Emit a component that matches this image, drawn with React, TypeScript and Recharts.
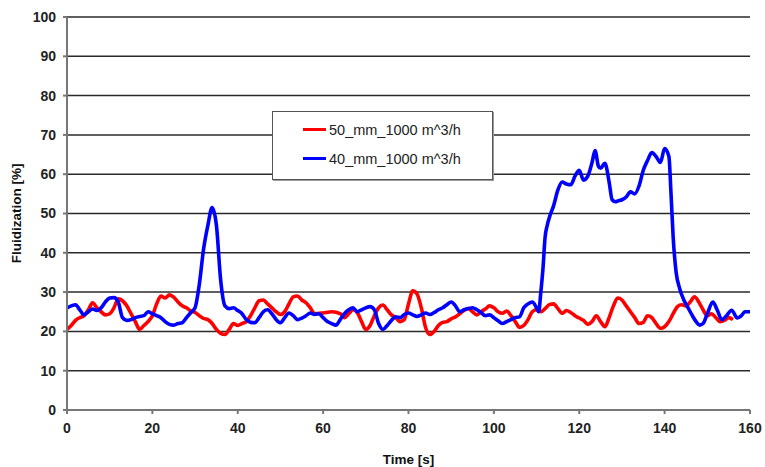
import React from "react";
import { LineChart, Line, XAxis, YAxis, CartesianGrid } from "recharts";

// [time s, fluidization %]
const red50: number[][] = [
  [0, 20.5], [1, 21.5], [2, 22.8], [3, 23.5], [4, 24], [5, 25.5], [6, 27.3], [7, 26], [8, 25], [9, 24.2],
  [10, 24.5], [11, 26], [12, 28.3], [13, 27.8], [14, 26.5], [15, 24.5], [16, 22.5], [17, 20.5], [18, 21.5], [19, 22.5],
  [20, 24], [21, 27], [22, 29], [23, 28.5], [24, 29.3], [25, 28.7], [26, 27.5], [27, 26.5], [28, 26], [29, 25.2],
  [30, 24.8], [31, 24], [32, 23.3], [33, 23], [34, 22], [35, 20.5], [36, 19.5], [37, 19.2], [38, 20.5], [39, 22],
  [40, 21.5], [41, 22], [42, 22.5], [43, 24], [44, 26], [45, 27.8], [46, 28], [47, 27], [48, 26], [49, 25],
  [50, 24.3], [51, 25], [52, 27], [53, 28.8], [54, 29], [55, 28], [56, 27.3], [57, 26], [58, 24.5], [60, 24.7],
  [62, 25], [64, 24.5], [65, 23.5], [66, 24.5], [67, 25.5], [68, 24.8], [69, 22.5], [70, 20.5], [71, 21.5], [72, 24],
  [73, 26], [74, 26.7], [75, 25.5], [76, 24.2], [77, 23.5], [78, 22.5], [79, 23], [80, 27], [81, 30.3], [82, 29.5],
  [83, 26], [84, 21], [85, 19.2], [86, 20], [87, 21.5], [88, 22.3], [89, 22.5], [90, 23.2], [91, 23.7], [92, 24.5],
  [93, 25.3], [94, 25.8], [95, 25], [96, 24.2], [97, 25], [98, 25.7], [99, 26.5], [100, 26], [101, 25], [102, 24.6],
  [103, 25.2], [104, 24], [105, 22.5], [106, 21], [107, 21.5], [108, 23], [109, 25], [110, 25.5], [111, 25], [112, 25.8],
  [113, 26.8], [114, 27], [115, 25.8], [116, 24.6], [117, 25.3], [118, 24.8], [119, 24], [120, 23.4], [121, 22.8], [122, 21.8],
  [123, 22.5], [124, 24], [125, 22.5], [126, 21.2], [127, 23.5], [128, 26.5], [129, 28.5], [130, 28], [131, 26.5], [132, 25],
  [133, 23.5], [134, 22], [135, 22.3], [136, 24], [137, 23.5], [138, 22], [139, 20.8], [140, 21.2], [141, 22.5], [142, 24.5],
  [143, 26.3], [144, 26.8], [145, 26.5], [146, 27.5], [147, 28.8], [148, 27.5], [149, 25.5], [150, 24], [151, 24.5], [152, 23.5],
  [153, 22.5], [154, 22.8], [155, 23.5], [156, 23],
];

const blue40: number[][] = [
  [0, 26], [1, 26.5], [2, 26.8], [3, 25.5], [4, 24.2], [5, 25], [6, 25.7], [7, 25.3], [8, 26], [9, 27.5],
  [10, 28.5], [11, 28.6], [12, 27.5], [13, 23.5], [14, 22.8], [15, 23], [16, 23.5], [17, 23.8], [18, 24], [19, 25],
  [20, 24.5], [21, 24], [22, 23.5], [23, 22.5], [24, 21.8], [25, 21.6], [26, 22], [27, 22.2], [28, 23.5], [29, 24.8],
  [30, 26], [31, 32], [32, 41], [33, 47], [34, 51.5], [35, 47], [36, 33], [37, 26.5], [38, 25.8], [39, 26],
  [40, 25.3], [41, 24.5], [42, 23], [43, 22.3], [44, 22.2], [45, 23.5], [46, 25], [47, 25.5], [48, 24.5], [49, 23],
  [50, 22.2], [51, 23.5], [52, 24.7], [53, 24], [54, 23], [55, 23.4], [56, 24], [57, 24.7], [58, 24.3], [59, 24.5],
  [60, 23.5], [61, 22.5], [62, 22], [63, 21.6], [64, 23], [65, 24.5], [66, 25.5], [67, 26], [68, 25], [69, 25.5],
  [70, 26], [71, 26.3], [72, 25.5], [73, 22], [74, 20.5], [75, 21.5], [76, 22.8], [77, 23.7], [78, 23.5], [79, 24.3],
  [80, 24.7], [81, 24.2], [82, 23.8], [83, 24.2], [84, 24.7], [85, 24.3], [86, 24.8], [87, 25.5], [88, 26], [89, 26.8],
  [90, 27.5], [91, 26.5], [92, 25], [93, 25.5], [94, 25.8], [95, 26], [96, 25.5], [97, 24.8], [98, 24], [99, 24.2],
  [100, 23.5], [101, 22.7], [102, 22], [103, 22.5], [104, 23], [105, 23.5], [106, 23.7], [107, 26], [108, 27], [109, 27.5],
  [110, 26], [110.5, 25], [111, 30], [111.5, 36], [112, 44], [112.5, 47], [113, 49], [114, 52], [115, 56], [116, 58],
  [117, 57.5], [118, 57.3], [119, 59.5], [120, 61], [121, 58.5], [122, 59.5], [123, 63], [123.7, 66], [124.5, 62], [125, 61.5],
  [126, 62.8], [127, 58], [127.7, 53.5], [128.5, 53], [129, 53.2], [130, 53.5], [131, 54.2], [132, 55.5], [133, 55], [134, 57],
  [135, 61], [136, 63.5], [137, 65.5], [138, 64.5], [139, 63], [140, 66.5], [141, 64.5], [141.5, 55], [142, 44], [142.7, 35],
  [143.5, 31], [144.5, 28], [145.5, 26], [146.5, 24], [147.5, 22.3], [148.2, 21.6], [149, 22], [150, 24.5], [151.3, 27.5], [152.3, 25.5],
  [153.4, 23], [154.5, 24], [155.7, 25.4], [157, 23.4], [158, 24], [158.8, 25], [160, 25],
];

const xTicks = [0, 20, 40, 60, 80, 100, 120, 140, 160];
const yTicks = [0, 10, 20, 30, 40, 50, 60, 70, 80, 90, 100];

const redData = red50.map(([t, v]) => ({ t, v }));
const blueData = blue40.map(([t, v]) => ({ t, v }));

const labelFont = "Liberation Sans, Arial, sans-serif";
const tickStyle = { fontFamily: labelFont, fontSize: 14, fontWeight: "bold", fill: "#222" };

function LegendBox() {
  const row = (color: string, text: string) => (
    <div style={{ display: "flex", alignItems: "center", height: 29 }}>
      <div style={{ width: 23, height: 3, background: color, marginLeft: 30, marginRight: 3 }} />
      <span style={{ fontFamily: labelFont, fontSize: 14.5, color: "#222" }}>{text}</span>
    </div>
  );
  return (
    <div
      style={{
        position: "absolute",
        left: 272,
        top: 111,
        width: 221,
        height: 69,
        background: "#fff",
        border: "1px solid #555",
        boxShadow: "1px 1px 0 #999",
        paddingTop: 3,
        boxSizing: "border-box",
      }}
    >
      {row("#ff0000", "50_mm_1000 m^3/h")}
      {row("#0000ff", "40_mm_1000 m^3/h")}
    </div>
  );
}

export default function App() {
  return (
    <div style={{ position: "absolute", left: 0, top: 0, width: 765, height: 467, background: "#fff" }}>
      <LineChart width={765} height={467} margin={{ top: 17, right: 15, bottom: 0, left: 0 }}>
        <CartesianGrid vertical={false} stroke="#2a2a2a" strokeWidth={1.5} />
        <XAxis
          type="number"
          dataKey="t"
          domain={[0, 160]}
          ticks={xTicks}
          height={57}
          stroke="#777"
          strokeWidth={2}
          tickSize={4}
          tickMargin={9}
          tick={tickStyle}
          label={{
            value: "Time [s]",
            position: "insideBottom",
            offset: 3,
            style: { fontFamily: labelFont, fontSize: 13.5, fontWeight: "bold", fill: "#111" },
          }}
          allowDataOverflow
        />
        <YAxis
          type="number"
          domain={[0, 100]}
          ticks={yTicks}
          width={67}
          stroke="#777"
          strokeWidth={2}
          tickSize={4}
          tickMargin={7}
          tick={tickStyle}
          label={{
            value: "Fluidization [%]",
            angle: -90,
            position: "insideLeft",
            offset: 16,
            style: { textAnchor: "middle", fontFamily: labelFont, fontSize: 13.5, fontWeight: "bold", fill: "#111" },
          }}
        />
        <Line
          data={redData}
          dataKey="v"
          name="50_mm_1000 m^3/h"
          type="monotone"
          stroke="#ff0000"
          strokeWidth={3.6}
          dot={false}
          isAnimationActive={false}
        />
        <Line
          data={blueData}
          dataKey="v"
          name="40_mm_1000 m^3/h"
          type="monotone"
          stroke="#0000ff"
          strokeWidth={3.6}
          dot={false}
          isAnimationActive={false}
        />
      </LineChart>
      <LegendBox />
    </div>
  );
}
